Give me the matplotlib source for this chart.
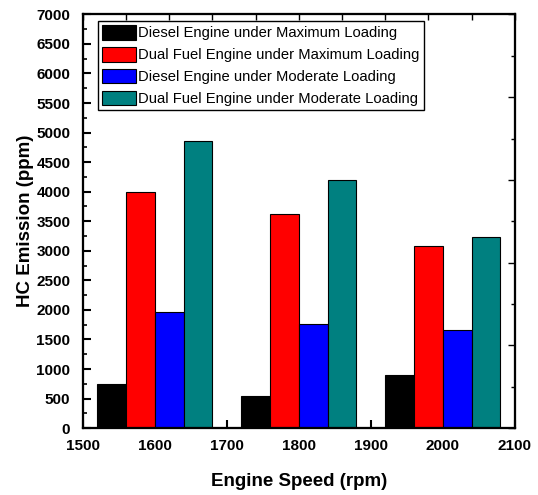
import numpy as np
import matplotlib.pyplot as plt
from matplotlib.ticker import MultipleLocator

plt.rcParams['font.family'] = ['Liberation Sans', 'DejaVu Sans']

# HC emission (ppm) against engine speed
speeds = [1600, 1800, 2000]
diesel_max = [740, 550, 900]
dual_max = [4000, 3630, 3080]
diesel_mod = [1970, 1760, 1660]
dual_mod = [4850, 4200, 3240]

series = [diesel_max, dual_max, diesel_mod, dual_mod]
labels = ['Diesel Engine under Maximum Loading',
          'Dual Fuel Engine under Maximum Loading',
          'Diesel Engine under Moderate Loading',
          'Dual Fuel Engine under Moderate Loading']
colors = ['#000000', '#ff0000', '#0000ff', '#008080']

fig = plt.figure(figsize=(5.38, 4.95), dpi=100)
ax = fig.add_axes([0.154, 0.135, 0.803, 0.836])

width = 40
offsets = [-60, -20, 20, 60]
for vals, lab, col, off in zip(series, labels, colors, offsets):
    ax.bar(np.array(speeds) + off, vals, width=width, color=col,
           edgecolor='black', linewidth=0.8, label=lab, zorder=2)

ax.set_xlim(1500, 2100)
ax.set_ylim(0, 7000)
ax.xaxis.set_major_locator(MultipleLocator(100))
ax.xaxis.set_minor_locator(MultipleLocator(50))
ax.yaxis.set_major_locator(MultipleLocator(500))
ax.yaxis.set_minor_locator(MultipleLocator(250))
ax.tick_params(which='major', direction='in', length=6, width=1.5, labelsize=11)
ax.tick_params(axis='x', which='major', pad=8)
ax.tick_params(axis='y', which='major', pad=9)
ax.tick_params(which='minor', direction='in', length=3, width=1.2)
for t in ax.get_xticklabels() + ax.get_yticklabels():
    t.set_fontweight('bold')

for s in ax.spines.values():
    s.set_linewidth(1.5)

# extra tick marks on top and right edges
axr = ax.twinx()
axr.set_ylim(0, 7000)
axr.yaxis.set_major_locator(MultipleLocator(1400))
axr.yaxis.set_minor_locator(MultipleLocator(700))
axr.tick_params(which='major', direction='in', length=5, width=1, labelright=False)
axr.tick_params(which='minor', direction='in', length=3, width=1)
axt = ax.twiny()
axt.set_xlim(1500, 2100)
axt.xaxis.set_major_locator(MultipleLocator(60))
axt.tick_params(which='major', direction='in', length=4, width=1, labeltop=False)
for a in (axr, axt):
    for s in a.spines.values():
        s.set_linewidth(1.5)

ax.set_xlabel('Engine Speed (rpm)', fontsize=13.5, fontweight='bold', labelpad=14)
ax.set_ylabel('HC Emission (ppm)', fontsize=13.5, fontweight='bold', labelpad=2)

leg = ax.legend(loc='upper left', bbox_to_anchor=(0.035, 0.985), borderaxespad=0,
                fontsize=10.6, frameon=True, fancybox=False, edgecolor='black',
                framealpha=1, borderpad=0.3, labelspacing=0.45, handlelength=2.25,
                handleheight=1.15, handletextpad=0.15)
leg.get_frame().set_linewidth(1.0)
leg.set_zorder(5)

fig.savefig('out.png', dpi=100)
